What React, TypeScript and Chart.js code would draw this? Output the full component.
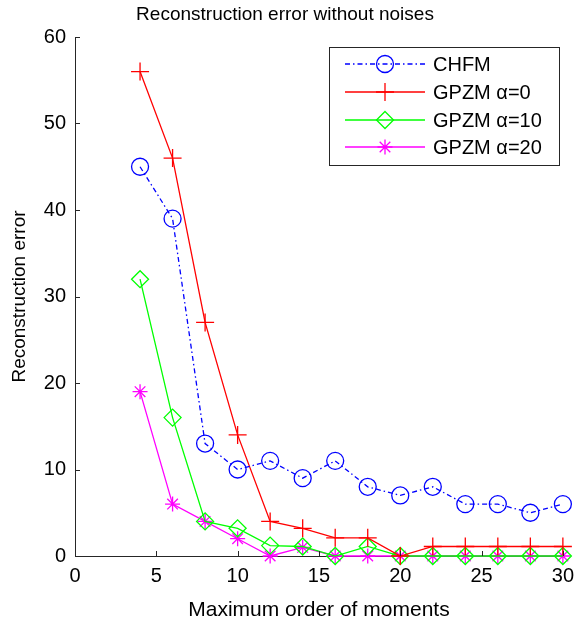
import React, { useEffect, useRef } from "react";
import { Chart, registerables } from "chart.js";

Chart.register(...registerables);

const orders = [4, 6, 8, 10, 12, 14, 16, 18, 20, 22, 24, 26, 28, 30];
const chfm = [45, 39, 13, 10, 11, 9, 11, 8, 7, 8, 6, 6, 5, 6];
const gpzm0 = [56, 46, 27, 14, 4, 3.2, 2.1, 2.1, 0, 1.1, 1.1, 1.1, 1.1, 1.1];
const gpzm10 = [32, 16, 4, 3.2, 1.2, 1.1, 0, 1.1, 0, 0, 0, 0, 0, 0];
const gpzm20 = [19, 6, 4, 2, 0, 1, 0, 0, 0, 0, 0, 0, 0, 0];

const seriesNames = ["CHFM", "GPZM \u03b1=0", "GPZM \u03b1=10", "GPZM \u03b1=20"];
const xTicks = [0, 5, 10, 15, 20, 25, 30];
const yTicks = [0, 10, 20, 30, 40, 50, 60];

const FONT = "'Liberation Sans', Arial, sans-serif";

function drawMarker(ctx: CanvasRenderingContext2D, style: string, x: number, y: number, r: number) {
  ctx.beginPath();
  if (style === "circle") {
    ctx.arc(x, y, r, 0, Math.PI * 2);
  } else if (style === "cross") {
    ctx.moveTo(x - r, y); ctx.lineTo(x + r, y);
    ctx.moveTo(x, y - r); ctx.lineTo(x, y + r);
  } else if (style === "rectRot") {
    ctx.moveTo(x, y - r); ctx.lineTo(x + r, y); ctx.lineTo(x, y + r); ctx.lineTo(x - r, y); ctx.closePath();
  } else if (style === "star") {
    ctx.moveTo(x - r, y); ctx.lineTo(x + r, y);
    ctx.moveTo(x, y - r); ctx.lineTo(x, y + r);
    const d = r * Math.SQRT1_2;
    ctx.moveTo(x - d, y - d); ctx.lineTo(x + d, y + d);
    ctx.moveTo(x - d, y + d); ctx.lineTo(x + d, y - d);
  }
  ctx.stroke();
}

const axesPlugin = {
  id: "matlabAxes",
  afterDraw(chart: any) {
    const ctx = chart.ctx as CanvasRenderingContext2D;
    const xs = chart.scales.x;
    const ys = chart.scales.y;
    const a = chart.chartArea;
    ctx.save();
    ctx.strokeStyle = "#262626";
    ctx.lineWidth = 1;
    ctx.beginPath();
    for (const t of xTicks) {
      const px = Math.round(xs.getPixelForValue(t)) + 0.5;
      ctx.moveTo(px, a.bottom);
      ctx.lineTo(px, a.bottom - 5);
    }
    for (const t of yTicks) {
      const py = Math.round(ys.getPixelForValue(t)) + 0.5;
      ctx.moveTo(a.left, py);
      ctx.lineTo(a.left + 5, py);
    }
    ctx.stroke();

    // legend
    const bx = 329, by = 47, bw = 230, bh = 118;
    ctx.fillStyle = "#fff";
    ctx.fillRect(bx, by, bw, bh);
    ctx.strokeStyle = "#262626";
    ctx.strokeRect(bx + 0.5, by + 0.5, bw, bh);
    const rows = [64, 92, 120, 147];
    chart.data.datasets.forEach((ds: any, i: number) => {
      const y = rows[i];
      ctx.strokeStyle = ds.borderColor;
      ctx.lineWidth = ds.borderWidth;
      ctx.setLineDash(ds.borderDash || []);
      ctx.beginPath();
      ctx.moveTo(345, y);
      ctx.lineTo(425, y);
      ctx.stroke();
      ctx.setLineDash([]);
      drawMarker(ctx, ds.pointStyle, 385, y, ds.pointRadius);
      ctx.fillStyle = "#000";
      ctx.font = `20px ${FONT}`;
      ctx.textBaseline = "middle";
      ctx.textAlign = "left";
      ctx.fillText(ds.label, 433, y + 1);
    });
    ctx.restore();
  },
};

export default function App() {
  const ref = useRef<HTMLCanvasElement>(null);
  useEffect(() => {
    document.body.style.margin = "0";
    const mk = (label: string, data: number[], color: string, style: string, r: number, dash?: number[]) => ({
      label,
      data: orders.map((x, i) => ({ x, y: data[i] })),
      borderColor: color,
      backgroundColor: "transparent",
      borderWidth: 1.3,
      borderDash: dash,
      pointStyle: style,
      pointRadius: r,
      pointBorderWidth: 1.3,
      pointBorderColor: color,
      pointBackgroundColor: "transparent",
      tension: 0,
      clip: false,
    });
    const chart = new Chart(ref.current!, {
      type: "line",
      data: {
        datasets: [
          mk(seriesNames[0], chfm, "#0000ff", "circle", 8.5, [5, 3, 1.5, 3]),
          mk(seriesNames[1], gpzm0, "#ff0000", "cross", 9),
          mk(seriesNames[2], gpzm10, "#00ff00", "rectRot", 8.5),
          mk(seriesNames[3], gpzm20, "#ff00ff", "star", 7.5),
        ] as any,
      },
      plugins: [axesPlugin],
      options: {
        animation: false,
        responsive: false,
        devicePixelRatio: 1,
        layout: { padding: { top: 0, right: 12, left: 0, bottom: 0 } },
        plugins: {
          legend: { display: false },
          tooltip: { enabled: false },
          title: {
            display: true,
            text: "Reconstruction error without noises",
            color: "#000",
            font: { family: FONT, size: 19, weight: "normal" },
            padding: { top: 3, bottom: 11.2 },
          },
        },
        scales: {
          x: {
            type: "linear",
            min: 0,
            max: 30,
            afterBuildTicks: (s: any) => { s.ticks = xTicks.map((v) => ({ value: v })); },
            afterFit: (s: any) => { s.height = 67; },
            grid: { display: true, drawOnChartArea: false, drawTicks: false },
            border: { display: true, color: "#262626", width: 1 },
            ticks: { color: "#000", padding: 8, maxRotation: 0, font: { family: FONT, size: 20 } },
            title: {
              display: true,
              text: "Maximum order of moments",
              color: "#000",
              font: { family: FONT, size: 21 },
              padding: { top: 6, bottom: 0 },
            },
          },
          y: {
            type: "linear",
            min: 0,
            max: 60,
            afterBuildTicks: (s: any) => { s.ticks = yTicks.map((v) => ({ value: v })); },
            afterFit: (s: any) => { s.width = 75; },
            grid: { display: true, drawOnChartArea: false, drawTicks: false },
            border: { display: true, color: "#262626", width: 1 },
            ticks: { color: "#000", padding: 9, font: { family: FONT, size: 20 } },
            title: {
              display: true,
              text: "Reconstruction error",
              color: "#000",
              font: { family: FONT, size: 19 },
              padding: { top: 8, bottom: 0 },
            },
          },
        },
      },
    });
    return () => chart.destroy();
  }, []);
  return <canvas ref={ref} width={582} height={623} style={{ display: "block" }} />;
}
